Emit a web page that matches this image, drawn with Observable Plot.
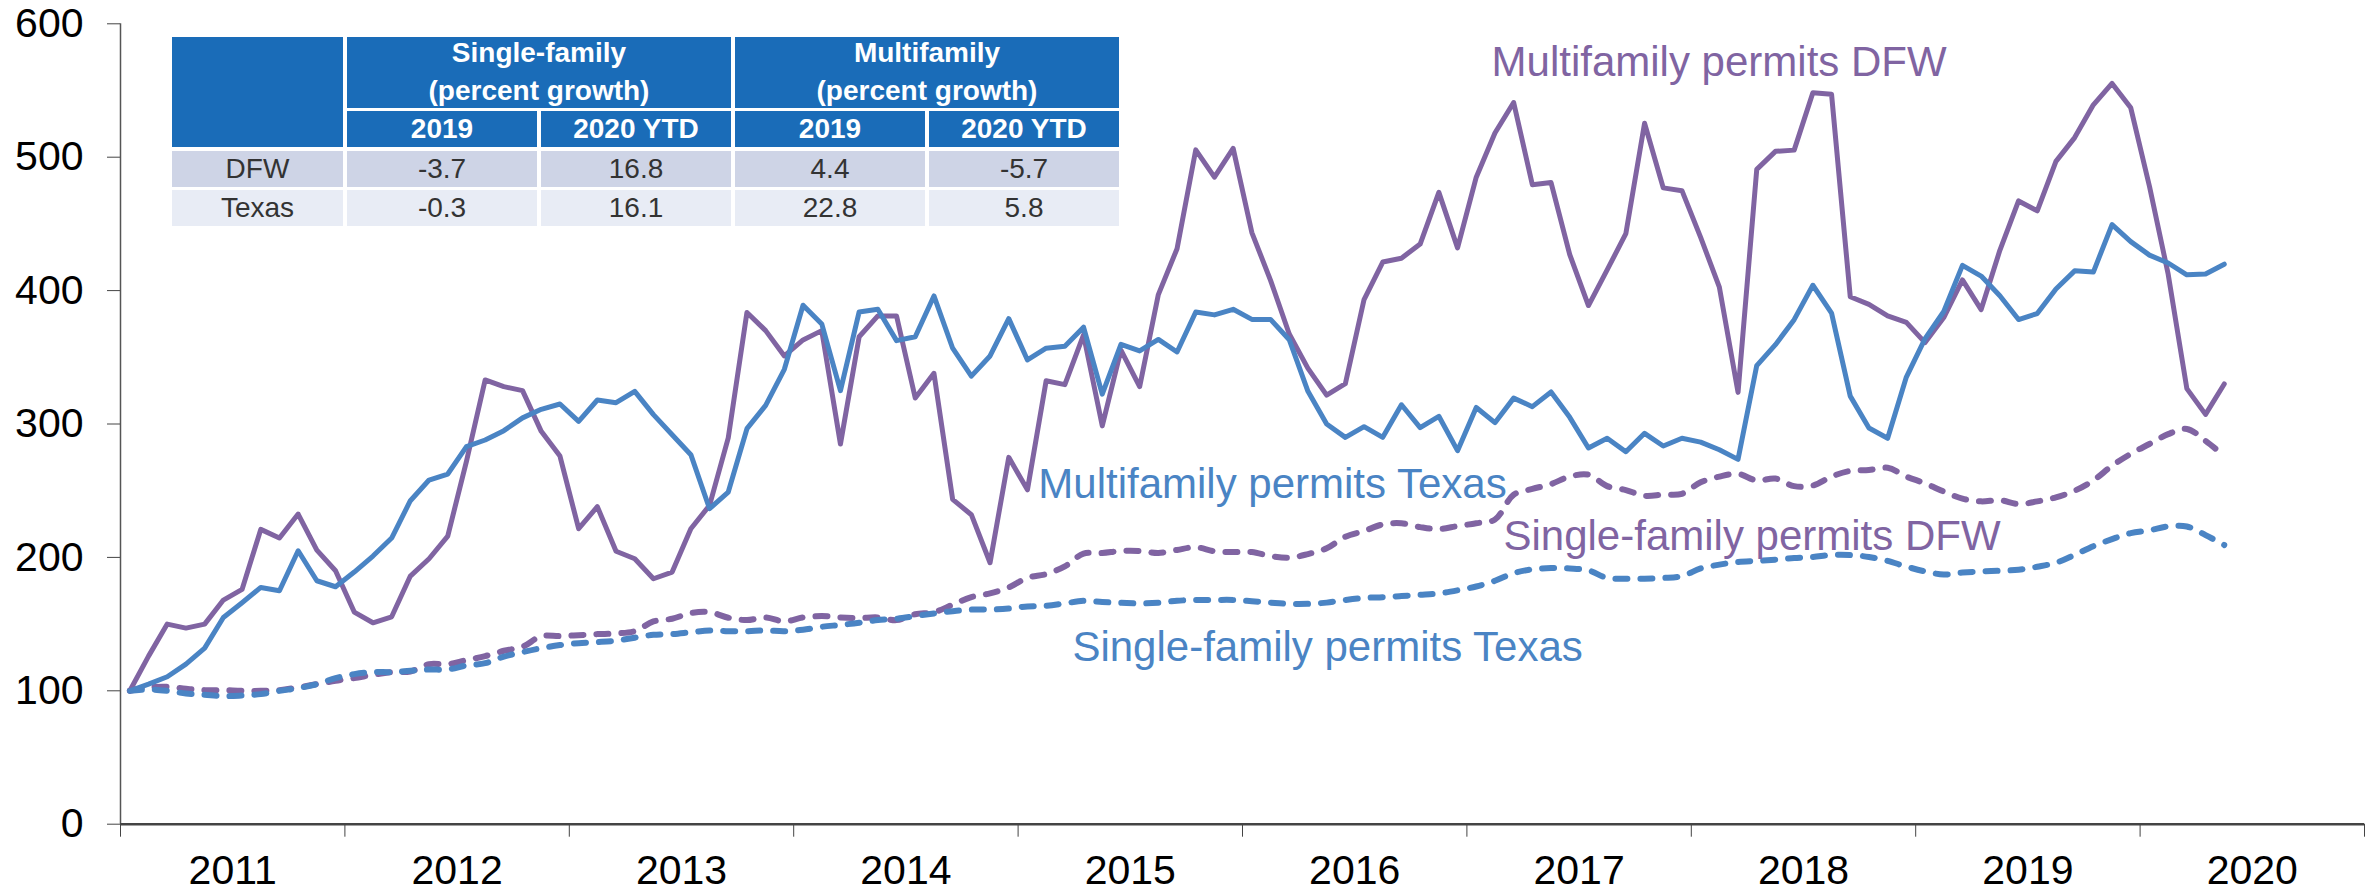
<!DOCTYPE html>
<html><head><meta charset="utf-8">
<script src="https://cdn.jsdelivr.net/npm/d3@7"></script>
<script src="https://cdn.jsdelivr.net/npm/@observablehq/plot@0.6"></script>
<style>
html,body{margin:0;padding:0;background:#fff;}
#wrap{position:relative;width:2379px;height:893px;overflow:hidden;font-family:"Liberation Sans",Arial,sans-serif;}
#wrap svg{position:absolute;left:0;top:0;}
.cell{position:absolute;display:flex;flex-direction:column;align-items:center;justify-content:center;text-align:center;font-size:28px;box-sizing:border-box;line-height:38px;}
.hd{background:#1A6CB8;color:#fff;font-weight:bold;}
.r1{background:#CED4E6;color:#333;}
.r2{background:#E8ECF5;color:#333;}
</style></head><body><div id="wrap"></div>
<script>
// ---- data (index 2011 Jan = 100), monthly Jan 2011 .. May 2020 ----
const startYear = 2011;
const years = [2011, 2012, 2013, 2014, 2015, 2016, 2017, 2018, 2019, 2020];
const yTicks = [0, 100, 200, 300, 400, 500, 600];

const mfDFW = [100,126,150,147,150,168,176,221,214.5,232.5,205.5,190,
  159,151,155.5,186,199,216,272,333,328,325,294.5,276,
  221.5,238,204.6,199,184,189,221.5,239,289.6,383.6,370,351,
  363,370,285,365.4,381,381,319.5,338,243.5,232,196,275,
  250.7,332.4,329.5,366.8,298.6,355.4,328,397,431.4,505.5,485,506.6,
  443.5,407.7,367.5,341.7,321.6,330.2,393.3,421.4,424.3,434.9,473.6,432,
  485,518.1,541,479.4,481,427,388.8,415.5,442.7,525.4,477,474.9,
  439.9,402.6,323.7,490.9,504.4,505.3,548.3,547.2,395.4,389.7,381.1,376.2,
  361,379.8,408,385.8,430.2,467.2,459.8,496.9,514.7,539.3,555.3,537,
  478.2,412.4,326.5,307.2,330];

const mfTX = [100,105,110.5,120,132,155,166,177.5,175,205,182.5,178,
  189,201,214.5,242.5,258,262.5,283,288,295,304.6,311,315,
  302,318,316,324.5,307,292,277,236.5,249,296.5,314,341,
  389,375,325,384,386,362.5,365.4,396,356.8,335.9,351,379,
  348,356.8,358.2,372.6,322.4,359.7,354.8,363.4,354,384,381.8,386,
  378.4,378.4,363.2,324.5,300,290,298,290,314.4,297.3,305.8,280,
  312.4,301,319.4,313,324,305,282,289.3,279.2,293,283.5,289.3,
  286.4,280.7,273.5,343.8,359.5,378.2,404,383.1,320.9,297,289.3,335.2,
  364,384.3,418.9,410.9,396.1,378.3,382.8,401.2,414.8,413.9,449.5,436.7,
  426.6,420.7,411.8,412.4,419.8];

const sfDFW = [100,102.5,103,101.5,100.5,100.5,100,100,100.5,102.5,105,107.5,
  109.5,112,114,114.5,120,120,123,126,130,133,141,141,
  141.7,142.5,143,144.7,152,154,158.3,159,154.8,153,155,152,
  155,156,155,154.6,155,153,157.4,158.9,164.6,170.3,173,177.5,
  184.7,187.5,193.3,202.8,203.3,204.8,204.8,203.3,205.6,207.6,204.6,204,
  204,201,199.7,202.5,206.8,215.5,219.8,224.7,225.6,222.7,221.2,223.5,
  225.6,228.4,247,251.3,255,260.6,262,253.4,250.5,246.2,247.1,247.7,
  256.3,260.6,262.6,257.7,259.1,253.4,253.9,260.6,264.9,265.5,267.2,260.6,
  255.5,249.4,244,242,242.9,240,242,245,250,257.7,268.7,277.6,
  285,292.4,296.3,287.4,276];

const sfTX = [100,101,100,98,97,96,96.5,97.5,100,102,105,109.5,
  112.5,114,114,115,116,116,119,120.7,125.6,129,132,134.3,
  135.7,136.5,137.6,139.8,142,142.5,143.9,145.2,144.7,144.7,145.2,144.7,
  145.8,148,149.4,151,153,154,156,158,159.7,160.9,160.9,161.7,
  163.2,163.7,165.5,167.5,166.6,166,165.5,166,167.5,168.1,168.1,168.1,
  167.2,166.1,165.2,165.2,166.1,168.1,169.6,170.2,171,171.9,173,175.3,
  178.2,182.5,188.2,191.1,192,191.7,190.3,184.6,184,184,184.6,186,
  191.7,194.6,196.6,197.4,198.3,199.5,200.3,201.8,201.8,200.3,197.4,193.1,
  189.5,187.2,188.6,189.5,190,190.7,193,196,201.9,208.4,213.7,218.2,
  220.3,223.2,223.2,216.7,209.3];

// series labels
const labelText = ["Multifamily permits DFW", "Multifamily permits Texas", "Single-family permits DFW", "Single-family permits Texas"];
const labelX = [2017.11, 2015.09, 2017.163, 2015.242];
const labelY = [560.5, 244.9, 205.2, 122];

// table contents
const tableGroups = ["Single-family|(percent growth)", "Multifamily|(percent growth)"];
const tableSub = ["2019", "2020 YTD", "2019", "2020 YTD"];
const tableRows = ["DFW", "Texas"];
const tableVals = [["-3.7", "16.8", "4.4", "-5.7"], ["-0.3", "16.1", "22.8", "5.8"]];

const purple = "#8064A2";
const blue = "#4A84C4";

const toRows = (arr) => arr.map((v, i) => ({x: startYear + (i + 0.5) / 12, v}));
const font = '"Liberation Sans", Arial, sans-serif';

const chart = Plot.plot({
  width: 2379, height: 893,
  marginLeft: 120, marginRight: 15, marginTop: 23.3, marginBottom: 69.3,
  x: {domain: [2011, 2021], label: null},
  y: {domain: [0, 600], label: null},
  style: {fontFamily: font, background: "white", color: "#000", overflow: "visible"},
  marks: [
    Plot.axisY({ticks: yTicks, tickSize: 13, tickPadding: 24, fontSize: 41, stroke: "#444", fill: "#000", tickFormat: d => String(d)}),
    Plot.axisX({ticks: [...years, 2021], tickSize: 13, stroke: "#444", tickFormat: () => ""}),
    Plot.axisX({ticks: years.map(y => y + 0.5), tickSize: 0, tickPadding: 31, fontSize: 41, fill: "#000", tickFormat: d => String(Math.floor(d))}),
    Plot.ruleX([2011], {y1: 0, y2: 600, stroke: "#555", strokeWidth: 1.5}),
    Plot.line(toRows(sfDFW), {x: "x", y: "v", stroke: purple, strokeWidth: 6, strokeDasharray: "12,13", strokeLinecap: "round", curve: "catmull-rom"}),
    Plot.line(toRows(sfTX), {x: "x", y: "v", stroke: blue, strokeWidth: 6, strokeDasharray: "12,13", strokeLinecap: "round", curve: "catmull-rom"}),
    Plot.line(toRows(mfDFW), {x: "x", y: "v", stroke: purple, strokeWidth: 5, strokeLinejoin: "round"}),
    Plot.line(toRows(mfTX), {x: "x", y: "v", stroke: blue, strokeWidth: 5, strokeLinejoin: "round"}),
    Plot.ruleY([0], {x1: 2011, x2: 2021, stroke: "#444", strokeWidth: 2.5}),
    Plot.text(labelText, {x: (d, i) => labelX[i], y: (d, i) => labelY[i], text: d => d,
      fill: (d, i) => (i % 2 === 0 ? purple : blue), fontSize: 42, textAnchor: "start", lineAnchor: "bottom"})
  ]
});
const wrap = document.getElementById("wrap");
wrap.appendChild(chart);

// ---- table (HTML overlay) ----
const colL = [172, 347, 541, 735, 929];
const colR = [343, 537, 731, 925, 1119];
const rowT = [36.7, 111, 151, 190];
const rowB = [107.7, 146.7, 186.7, 225.7];
function cell(x0, x1, y0, y1, cls, html) {
  const d = document.createElement("div");
  d.className = "cell " + cls;
  d.style.left = x0 + "px"; d.style.top = y0 + "px";
  d.style.width = (x1 - x0) + "px"; d.style.height = (y1 - y0) + "px";
  d.innerHTML = html;
  wrap.appendChild(d);
}
cell(colL[0], colR[0], rowT[0], rowB[1], "hd", "");
tableGroups.forEach((g, k) => {
  cell(colL[1 + 2 * k], colR[2 + 2 * k], rowT[0], rowB[0], "hd", g.split("|").map(s => `<span>${s}</span>`).join(""));
});
tableSub.forEach((s, k) => cell(colL[1 + k], colR[1 + k], rowT[1], rowB[1], "hd", s));
tableRows.forEach((r, j) => {
  const cls = j === 0 ? "r1" : "r2";
  cell(colL[0], colR[0], rowT[2 + j], rowB[2 + j], cls, r);
  tableVals[j].forEach((v, k) => cell(colL[1 + k], colR[1 + k], rowT[2 + j], rowB[2 + j], cls, v));
});
</script></body></html>
